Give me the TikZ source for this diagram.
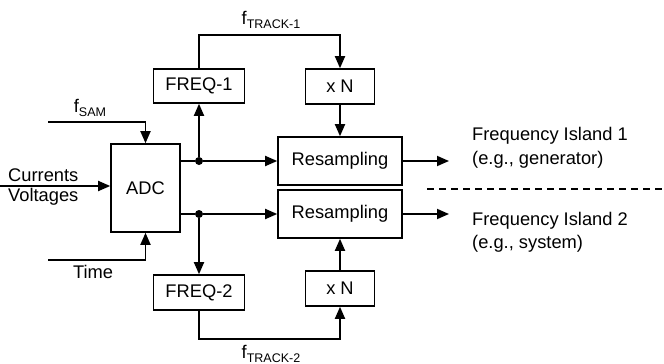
\documentclass[tikz,border=0pt]{standalone}
\usepackage{fontspec}
\setmainfont{Liberation Sans}
\usetikzlibrary{arrows.meta}
\begin{document}
\begin{tikzpicture}[x=1pt,y=-1pt,
  every node/.style={font=\fontsize{18.3}{20}\selectfont, inner sep=0pt},
  blk/.style={draw, line width=1.6pt, fill=white},
  wire/.style={line width=1.8pt},
  flow/.style={wire, -{Triangle[length=12pt,width=10pt]}},
  junction/.style={circle, fill=black, minimum size=8pt, inner sep=0pt},
  lbl/.style={anchor=west, align=left}]
\useasboundingbox (0,0) rectangle (664,364);

% processing blocks
\node[blk, minimum width=69pt, minimum height=88pt] (adc) at (145.5,188) {ADC};
\node[blk, minimum width=91pt, minimum height=34pt] (freqA) at (199,86) {FREQ-1};
\node[blk, minimum width=69pt, minimum height=35pt] (mulA) at (340,86.5) {x N};
\node[blk, minimum width=124pt, minimum height=48pt] (resA) at (340,161) {Resampling};
\node[blk, minimum width=124pt, minimum height=48pt] (resB) at (340,214) {Resampling};
\node[blk, minimum width=69pt, minimum height=35pt] (mulB) at (340,288.5) {x N};
\node[blk, minimum width=91pt, minimum height=35pt] (freqB) at (199,292.5) {FREQ-2};

% branch points
\node[junction] (jA) at (199,161) {};
\node[junction] (jB) at (199,214) {};

% free wire ends and corners
\coordinate (samIn) at (48,122);
\coordinate (timeIn) at (48,260);
\coordinate (sigIn) at (0,186);
\coordinate (topL) at (199,35);
\coordinate (topR) at (340,35);
\coordinate (botL) at (199,339);
\coordinate (botR) at (340,339);
\coordinate (outA) at (449,161);
\coordinate (outB) at (449,214);
\coordinate (sepL) at (427,189);
\coordinate (sepR) at (664,189);

% inputs to the converter
\draw[flow] (samIn) -- (samIn -| adc.north) -- (adc.north);
\draw[flow] (timeIn) -- (timeIn -| adc.south) -- (adc.south);
\draw[flow] (sigIn) -- (sigIn -| adc.west);

% upper path
\draw[wire] (jA -| adc.east) -- (jA);
\draw[flow] (jA) -- (resA.west);
\draw[flow] (jA) -- (freqA.south);
\draw[flow] (freqA.north) -- (topL) -- (topR) -- (mulA.north);
\draw[flow] (mulA.south) -- (resA.north);
\draw[flow] (resA.east) -- (outA);

% lower path
\draw[wire] (jB -| adc.east) -- (jB);
\draw[flow] (jB) -- (resB.west);
\draw[flow] (jB) -- (freqB.north);
\draw[flow] (freqB.south) -- (botL) -- (botR) -- (mulB.south);
\draw[flow] (mulB.north) -- (resB.south);
\draw[flow] (resB.east) -- (outB);

% island separator
\draw[line width=1.4pt, dash pattern=on 7pt off 5pt] (sepL) -- (sepR);

% labels
\node (lTrkA) at (271,20) {f\raisebox{-0.35ex}{\fontsize{12.5}{13}\selectfont TRACK-1}};
\node (lTrkB) at (271,354) {f\raisebox{-0.35ex}{\fontsize{12.5}{13}\selectfont TRACK-2}};
\node (lSam) at (90,108) {f\raisebox{-0.35ex}{\fontsize{12.5}{13}\selectfont SAM}};
\node[lbl] (lCur) at (8,175) {Currents};
\node[lbl] (lVol) at (8,197) {Voltages};
\node (lTime) at (93,272) {Time};
\node[lbl] (isA1) at (472,136) {Frequency Island 1};
\node[lbl] (isA2) at (472,160) {(e.g., generator)};
\node[lbl] (isB1) at (472,221) {Frequency Island 2};
\node[lbl] (isB2) at (472,244) {(e.g., system)};
\end{tikzpicture}
\end{document}
